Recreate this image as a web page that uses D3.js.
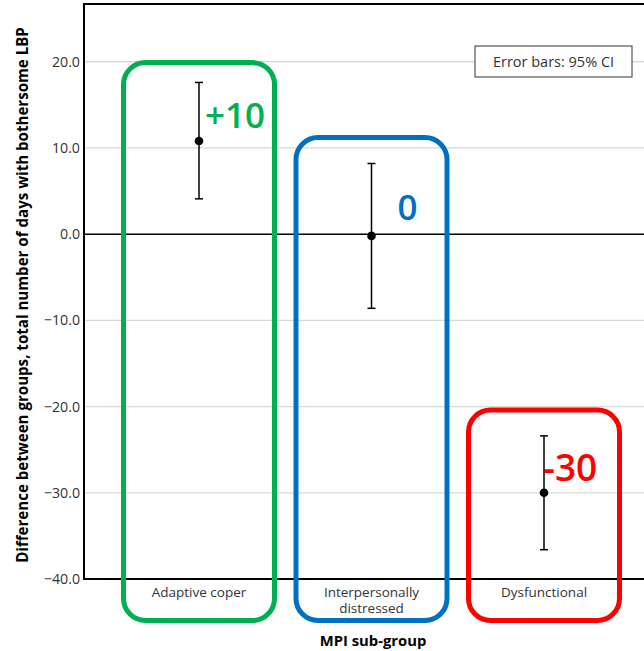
<!DOCTYPE html>
<html>
<head>
<meta charset="utf-8">
<script src="https://cdn.jsdelivr.net/npm/d3@7"></script>
<style>
  html, body { margin: 0; padding: 0; background: #fff; }
  svg { display: block; }
</style>
</head>
<body>
<script>
// ---- Data ----
const categories = ["Adaptive coper", "Interpersonally distressed", "Dysfunctional"];
const categoryLines = [["Adaptive coper"], ["Interpersonally", "distressed"], ["Dysfunctional"]];
const means = [10.8, -0.2, -30.0];
const lowerCI = [4.1, -8.6, -36.6];
const upperCI = [17.6, 8.2, -23.4];
const yTicks = [-40, -30, -20, -10, 0, 10, 20];
const yDomain = [-40, 26.7];
const annotationLabels = ["+10", "0", "-30"];
const annotationColors = ["#00b050", "#0070c0", "#ff0000"];
const annotationBoxTop = [19.9, 11.2, -20.4];
const annotationTextX = [6, 26, -1];        // px offset from category centre
const annotationTextY = [12.3, 1.7, -28.6]; // baseline, in data units
const annotationSize = [35, 35, 37];
const legendText = "Error bars: 95% CI";
const xTitle = "MPI sub-group";
const yTitle = "Difference between groups, total number of days with bothersome LBP";

// ---- Layout ----
const W = 644, H = 651;
const plot = { left: 84, right: 659, top: 4, bottom: 579 };

const svg = d3.select("body").append("svg").attr("width", W).attr("height", H);

const x = d3.scalePoint().domain(categories).range([plot.left, plot.right]).padding(2 / 3);
const y = d3.scaleLinear().domain(yDomain).range([plot.bottom, plot.top]);

const font = "'Open Sans', 'Noto Sans', sans-serif";

// gridlines
svg.append("g").selectAll("line").data(yTicks.filter(d => d !== 0 && d !== -40)).join("line")
  .attr("x1", plot.left).attr("x2", W)
  .attr("y1", d => y(d)).attr("y2", d => y(d))
  .attr("stroke", "#d9d9d9").attr("stroke-width", 1.3);

// y axis (labels only)
const yAxis = d3.axisLeft(y).tickValues(yTicks).tickFormat(d3.format(".1f")).tickSize(0).tickPadding(4);
const ya = svg.append("g").attr("transform", `translate(${plot.left},0)`).call(yAxis);
ya.select(".domain").remove();
ya.selectAll("text").attr("font-family", font).attr("font-size", 14.2).attr("fill", "#333");

// legend box (covers gridline)
const lg = svg.append("g");
lg.append("rect").attr("x", 475).attr("y", 46).attr("width", 157).attr("height", 31)
  .attr("fill", "#fff").attr("stroke", "#333").attr("stroke-width", 1);
lg.append("text").attr("x", 553.5).attr("y", 66.5).attr("text-anchor", "middle")
  .attr("font-family", font).attr("font-size", 14.5).attr("fill", "#333").text(legendText);

// zero line
svg.append("line").attr("x1", plot.left).attr("x2", W).attr("y1", y(0)).attr("y2", y(0))
  .attr("stroke", "#000").attr("stroke-width", 1.5);

// frame: left axis, bottom axis, top border
svg.append("line").attr("x1", plot.left).attr("x2", plot.left).attr("y1", plot.top).attr("y2", plot.bottom)
  .attr("stroke", "#000").attr("stroke-width", 2);
svg.append("line").attr("x1", plot.left - 1).attr("x2", W).attr("y1", plot.bottom).attr("y2", plot.bottom)
  .attr("stroke", "#000").attr("stroke-width", 2);
svg.append("line").attr("x1", plot.left - 1).attr("x2", W).attr("y1", plot.top).attr("y2", plot.top)
  .attr("stroke", "#000").attr("stroke-width", 2);

// category labels
const xl = svg.append("g");
categories.forEach((c, i) => {
  categoryLines[i].forEach((ln, j) => {
    xl.append("text").attr("x", x(c)).attr("y", 597 + j * 15.5).attr("text-anchor", "middle")
      .attr("font-family", font).attr("font-size", 13.5).attr("fill", "#333").text(ln);
  });
});

// error bars
const eb = svg.append("g");
categories.forEach((c, i) => {
  const cx = x(c);
  eb.append("line").attr("x1", cx).attr("x2", cx).attr("y1", y(lowerCI[i])).attr("y2", y(upperCI[i]))
    .attr("stroke", "#000").attr("stroke-width", 1.5);
  [lowerCI[i], upperCI[i]].forEach(v => {
    eb.append("line").attr("x1", cx - 4).attr("x2", cx + 4).attr("y1", y(v)).attr("y2", y(v))
      .attr("stroke", "#000").attr("stroke-width", 1.5);
  });
  eb.append("circle").attr("cx", cx).attr("cy", y(means[i])).attr("r", 4.3).attr("fill", "#000");
});

// annotation boxes
const boxHalf = 75.5, boxBottom = plot.bottom + 41.5;
const an = svg.append("g");
categories.forEach((c, i) => {
  const cx = x(c);
  const top = y(annotationBoxTop[i]);
  an.append("rect").attr("x", cx - boxHalf).attr("y", top)
    .attr("width", boxHalf * 2).attr("height", boxBottom - top)
    .attr("rx", 22).attr("ry", 22)
    .attr("fill", "none").attr("stroke", annotationColors[i]).attr("stroke-width", 5);
  an.append("text").attr("x", cx + annotationTextX[i]).attr("y", y(annotationTextY[i]))
    .attr("font-family", font).attr("font-weight", 600).attr("font-size", annotationSize[i])
    .attr("fill", annotationColors[i]).text(annotationLabels[i]);
});

// axis titles
svg.append("text").attr("x", 373).attr("y", 646).attr("text-anchor", "middle")
  .attr("font-family", font).attr("font-weight", "bold").attr("font-size", 14.8).attr("fill", "#000")
  .text(xTitle);
svg.append("text").attr("transform", "translate(28,295) rotate(-90)").attr("text-anchor", "middle")
  .attr("font-family", font).attr("font-weight", "bold").attr("font-size", 15.1).attr("fill", "#000")
  .text(yTitle);
</script>
</body>
</html>
